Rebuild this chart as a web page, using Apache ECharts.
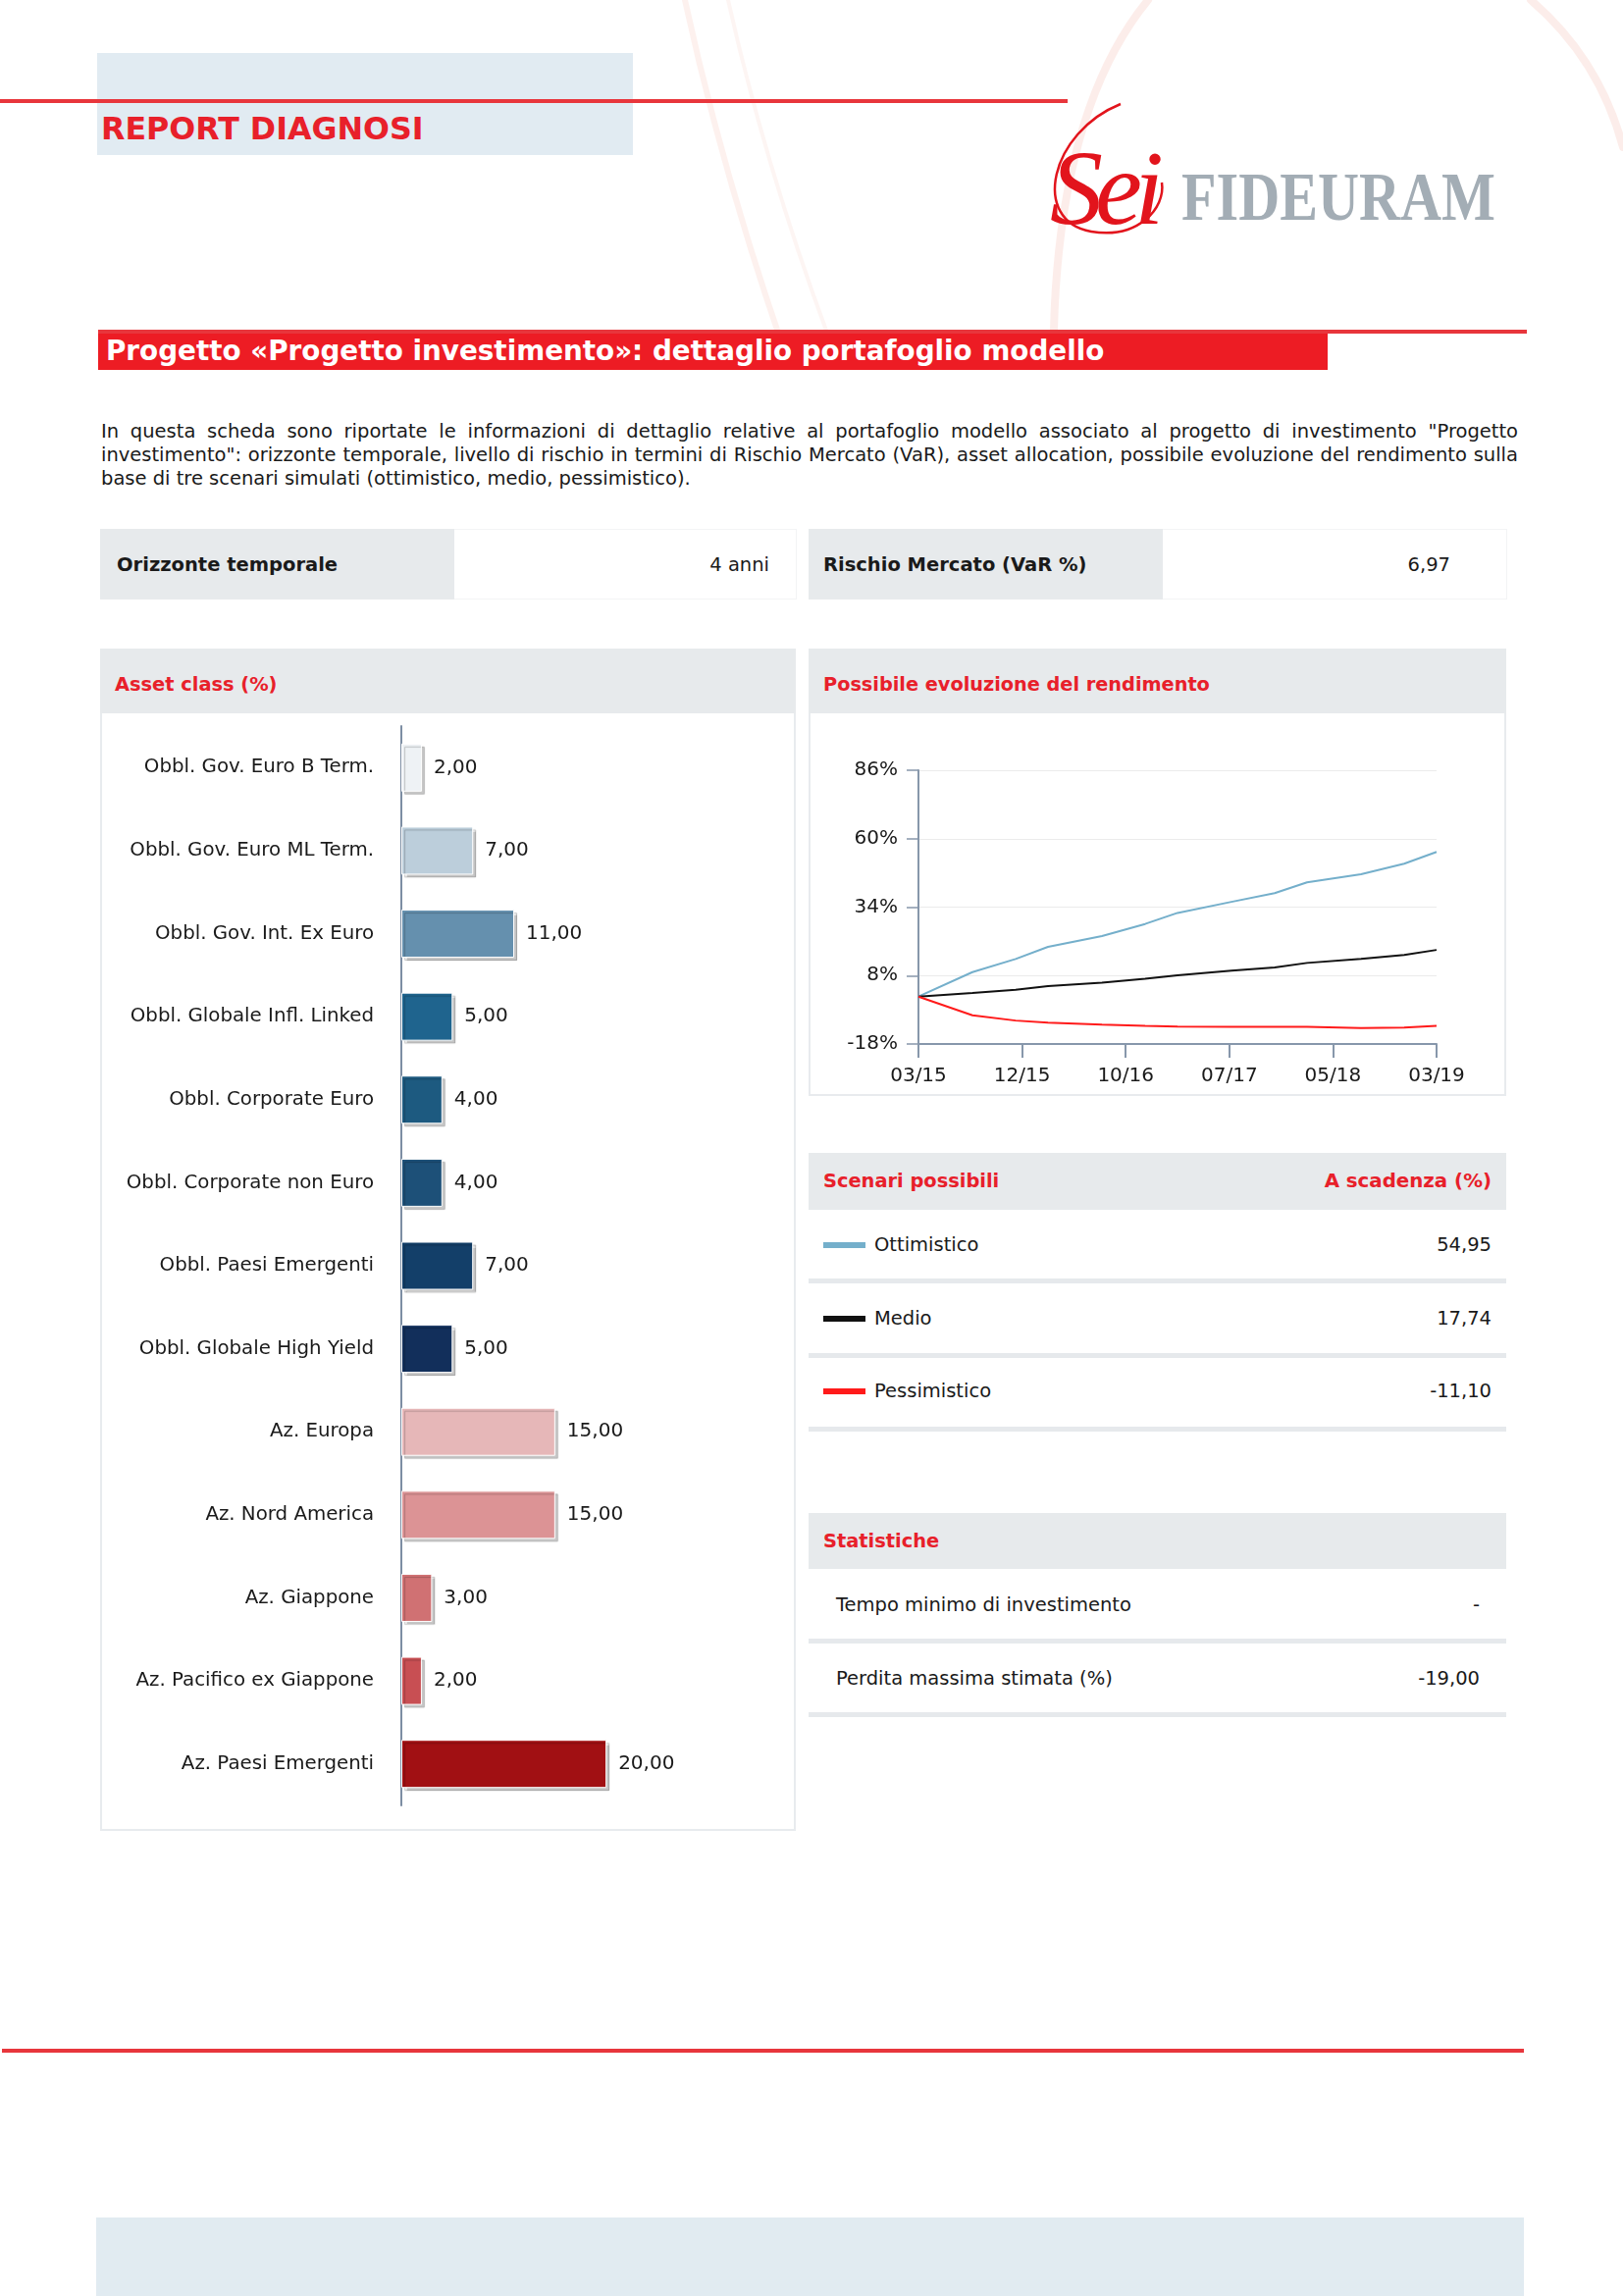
<!DOCTYPE html>
<html><head><meta charset="utf-8">
<script src="https://cdn.jsdelivr.net/npm/echarts@6/dist/echarts.min.js"></script>
<style>
html,body{margin:0;padding:0}
body{width:1654px;height:2340px;position:relative;background:#fff;font-family:"DejaVu Sans",Verdana,sans-serif;color:#1a1a1a;overflow:hidden}
.a{position:absolute;white-space:nowrap}
.grey{background:#e7eaec}
.red{color:#e8202a;font-weight:bold}
.t{font-size:19.5px}
.b{font-weight:bold}
.sep{position:absolute;left:824px;width:711px;height:5px;background:#e6e9ec}
.para{position:absolute;left:103px;width:1444px;font-size:19.5px;line-height:24px;white-space:nowrap;text-align:justify}
.just{text-align-last:justify}
</style></head>
<body>
<svg class="a" style="left:0;top:0;z-index:0" width="1654" height="2340">
  <g fill="none" stroke-linecap="round">
    <path d="M 698 0 Q 735 170 795 345" stroke="rgba(240,170,150,0.16)" stroke-width="6"/>
    <path d="M 742 0 Q 780 170 845 345" stroke="rgba(240,180,165,0.13)" stroke-width="4"/>
    <path d="M 1170 0 Q 1080 110 1074 336" stroke="rgba(240,175,160,0.22)" stroke-width="8"/>
    <path d="M 1560 0 Q 1630 60 1654 150" stroke="rgba(240,175,160,0.22)" stroke-width="8"/>
  </g>
  <rect x="99" y="54" width="546" height="104" fill="#e1ebf2"/>
  <rect x="0" y="101" width="1088" height="4" fill="#e8363c"/>
  <rect x="100" y="336" width="1456" height="4" fill="#e8363c"/>
  <rect x="2" y="2088" width="1551" height="4" fill="#e8363c"/>
  <rect x="98" y="2260" width="1455" height="80" fill="#e1ebf1"/>
  <path d="M 1142 106 C 1070 135, 1050 225, 1112 236 C 1160 244, 1188 212, 1184 186" fill="none" stroke="#e2141c" stroke-width="2.5"/>
  <text x="1070" y="228" font-family="Liberation Serif" font-style="italic" font-size="108" fill="#e2141c" letter-spacing="-8">Sei</text>
  <text x="1204" y="224" font-family="Liberation Serif" font-size="70" font-weight="bold" fill="#a3adb5" textLength="320" lengthAdjust="spacingAndGlyphs">FIDEURAM</text>
</svg>

<div class="a red" style="left:103px;top:112px;font-size:31.7px;line-height:38px">REPORT DIAGNOSI</div>

<div class="a" style="left:100px;top:340px;width:1253px;height:37px;background:#ed1c24"></div>
<div class="a b" style="left:108px;top:339px;font-size:27.8px;line-height:37px;color:#fff">Progetto «Progetto investimento»: dettaglio portafoglio modello</div>

<div class="para just" style="top:428px">In questa scheda sono riportate le informazioni di dettaglio relative al portafoglio modello associato al progetto di investimento "Progetto</div>
<div class="para just" style="top:452px">investimento": orizzonte temporale, livello di rischio in termini di Rischio Mercato (VaR), asset allocation, possibile evoluzione del rendimento sulla</div>
<div class="para" style="top:476px">base di tre scenari simulati (ottimistico, medio, pessimistico).</div>

<div class="a grey" style="left:102px;top:539px;width:361px;height:72px"></div>
<div class="a" style="left:463px;top:539px;width:348px;height:70px;border:1px solid #f3f4f5;border-left:none"></div>
<div class="a grey" style="left:824px;top:539px;width:361px;height:72px"></div>
<div class="a" style="left:1185px;top:539px;width:350px;height:70px;border:1px solid #f3f4f5;border-left:none"></div>
<div class="a b t" style="left:119px;top:561px;line-height:30px">Orizzonte temporale</div>
<div class="a t" style="right:870px;top:561px;line-height:30px">4 anni</div>
<div class="a b t" style="left:839px;top:561px;line-height:30px">Rischio Mercato (VaR %)</div>
<div class="a t" style="right:176px;top:561px;line-height:30px">6,97</div>

<div class="a" style="left:102px;top:661px;width:705px;height:1201px;border:2px solid #e8ebee"></div>
<div class="a grey" style="left:102px;top:661px;width:709px;height:66px"></div>
<div class="a red" style="left:117px;top:683px;font-size:19.4px;line-height:30px">Asset class (%)</div>

<div class="a" style="left:824px;top:661px;width:707px;height:452px;border:2px solid #e8ebee"></div>
<div class="a grey" style="left:824px;top:661px;width:711px;height:66px"></div>
<div class="a red" style="left:839px;top:683px;font-size:19.3px;line-height:30px">Possibile evoluzione del rendimento</div>

<div class="a grey" style="left:824px;top:1175px;width:711px;height:58px"></div>
<div class="a red" style="left:839px;top:1189px;font-size:19.4px;line-height:30px">Scenari possibili</div>
<div class="a red" style="right:134px;top:1189px;font-size:19.8px;line-height:30px">A scadenza (%)</div>
<div id="scen"></div>
<div class="sep" style="top:1303px"></div>
<div class="sep" style="top:1379px"></div>
<div class="sep" style="top:1454px"></div>

<div class="a grey" style="left:824px;top:1542px;width:711px;height:57px"></div>
<div class="a red" style="left:839px;top:1556px;font-size:19.4px;line-height:30px">Statistiche</div>
<div class="a t" style="left:852px;top:1621px;line-height:30px">Tempo minimo di investimento</div>
<div class="a t" style="right:146px;top:1621px;line-height:30px">-</div>
<div class="a t" style="left:852px;top:1696px;line-height:30px">Perdita massima stimata (%)</div>
<div class="a t" style="right:146px;top:1696px;line-height:30px">-19,00</div>
<div class="sep" style="top:1670px"></div>
<div class="sep" style="top:1745px"></div>

<div id="bars" class="a" style="left:102px;top:727px;width:709px;height:1139px"></div>
<div id="lines" class="a" style="left:824px;top:727px;width:711px;height:390px"></div>

<script>
// ---- data ----
const assetCategories = ['Obbl. Gov. Euro B Term.', 'Obbl. Gov. Euro ML Term.', 'Obbl. Gov. Int. Ex Euro',
  'Obbl. Globale Infl. Linked', 'Obbl. Corporate Euro', 'Obbl. Corporate non Euro', 'Obbl. Paesi Emergenti',
  'Obbl. Globale High Yield', 'Az. Europa', 'Az. Nord America', 'Az. Giappone', 'Az. Pacifico ex Giappone',
  'Az. Paesi Emergenti'];
const assetWeights = [2, 7, 11, 5, 4, 4, 7, 5, 15, 15, 3, 2, 20];

const months = [0, 5, 9, 12, 17, 21, 24, 29, 33, 36, 41, 45, 48];
const ottimistico = [0, 9.3, 14.3, 18.9, 23.0, 27.6, 31.8, 36.0, 39.3, 43.4, 46.5, 50.5, 54.95];
const medio = [0, 1.4, 2.6, 4.0, 5.3, 6.8, 8.1, 9.9, 11.1, 12.8, 14.3, 15.8, 17.74];
const pessimistico = [0, -7.1, -9.1, -9.9, -10.6, -11.1, -11.4, -11.5, -11.5, -11.5, -11.9, -11.8, -11.10];
const xTickLabels = ['03/15', '12/15', '10/16', '07/17', '05/18', '03/19'];
const yTickValues = [-18, 8, 34, 60, 86];

const scenarioNames = ['Ottimistico', 'Medio', 'Pessimistico'];
const scenarioFinal = [54.95, 17.74, -11.10];

// ---- styles ----
const barColors = ['#eef2f5', '#bccedb', '#6590ae', '#1f648e', '#1d5a80', '#1d5078', '#133f69',
  '#122f5b', '#e6b7b8', '#dc9395', '#d07173', '#c84f53', '#a11013'];
const lineColors = ['#74afcb', '#111111', '#ff1a1a'];
const FONT = '"DejaVu Sans", Verdana, sans-serif';
const fmt = v => v.toFixed(2).replace('.', ',');

// scenario rows
const scen = document.getElementById('scen');
const rowTops = [1254, 1329, 1403];
scenarioNames.forEach((n, i) => {
  scen.insertAdjacentHTML('beforeend',
    `<div class="a" style="left:839px;top:${rowTops[i] + 12}px;width:43px;height:6px;background:${lineColors[i]}"></div>` +
    `<div class="a t" style="left:891px;top:${rowTops[i]}px;line-height:30px">${n}</div>` +
    `<div class="a t" style="right:134px;top:${rowTops[i]}px;line-height:30px">${fmt(scenarioFinal[i])}</div>`);
});

// bar chart
const bars = echarts.init(document.getElementById('bars'));
bars.setOption({
  animation: false,
  textStyle: { fontFamily: FONT },
  grid: { left: 307, top: 13, width: 366, height: 1100 },
  xAxis: { type: 'value', min: 0, max: 35, show: false },
  yAxis: {
    type: 'category', data: assetCategories, inverse: true,
    axisLine: { lineStyle: { color: '#7d8ea3', width: 2 } },
    axisTick: { show: false },
    axisLabel: { margin: 28, fontSize: 19.8, color: '#1a1a1a', fontFamily: FONT }
  },
  series: [{
    type: 'bar', barWidth: 49,
    data: assetWeights.map((v, i) => ({ value: v, itemStyle: { color: barColors[i] } })),
    itemStyle: { borderColor: '#ffffff', borderWidth: 1, shadowColor: 'rgba(0,0,0,0.22)', shadowOffsetX: 3, shadowOffsetY: 3, shadowBlur: 1 },
    label: { show: true, position: 'right', distance: 12, fontSize: 20, color: '#1a1a1a', fontFamily: FONT,
      formatter: p => fmt(p.value) }
  }]
});

// line chart
const lines = echarts.init(document.getElementById('lines'));
const axisCol = '#8797ab';
lines.setOption({
  animation: false,
  textStyle: { fontFamily: FONT },
  grid: { left: 112, top: 58, width: 528, height: 279 },
  xAxis: {
    type: 'value', min: 0, max: 48, interval: 9.6,
    axisLine: { onZero: false, lineStyle: { color: axisCol, width: 2 } },
    axisTick: { show: true, length: 14, lineStyle: { color: axisCol, width: 2 } },
    splitLine: { show: false },
    axisLabel: { margin: 23, fontSize: 20, color: '#1a1a1a', fontFamily: FONT,
      formatter: v => xTickLabels[Math.round(v / 9.6)] || '' }
  },
  yAxis: {
    type: 'value', min: yTickValues[0], max: yTickValues[yTickValues.length - 1], interval: yTickValues[1] - yTickValues[0],
    axisLine: { show: true, onZero: false, lineStyle: { color: axisCol, width: 2 } },
    axisTick: { show: true, length: 12, lineStyle: { color: axisCol, width: 1.5 } },
    splitLine: { lineStyle: { color: '#ebebeb', width: 1 } },
    axisLabel: { margin: 21, fontSize: 20, color: '#1a1a1a', fontFamily: FONT, formatter: '{value}%' }
  },
  series: [
    { name: 'Ottimistico', type: 'line', data: months.map((m, i) => [m, ottimistico[i]]), showSymbol: false,
      lineStyle: { color: lineColors[0], width: 2 } },
    { name: 'Medio', type: 'line', data: months.map((m, i) => [m, medio[i]]), showSymbol: false,
      lineStyle: { color: lineColors[1], width: 2 } },
    { name: 'Pessimistico', type: 'line', data: months.map((m, i) => [m, pessimistico[i]]), showSymbol: false,
      lineStyle: { color: lineColors[2], width: 2 } }
  ]
});
</script>
</body></html>
